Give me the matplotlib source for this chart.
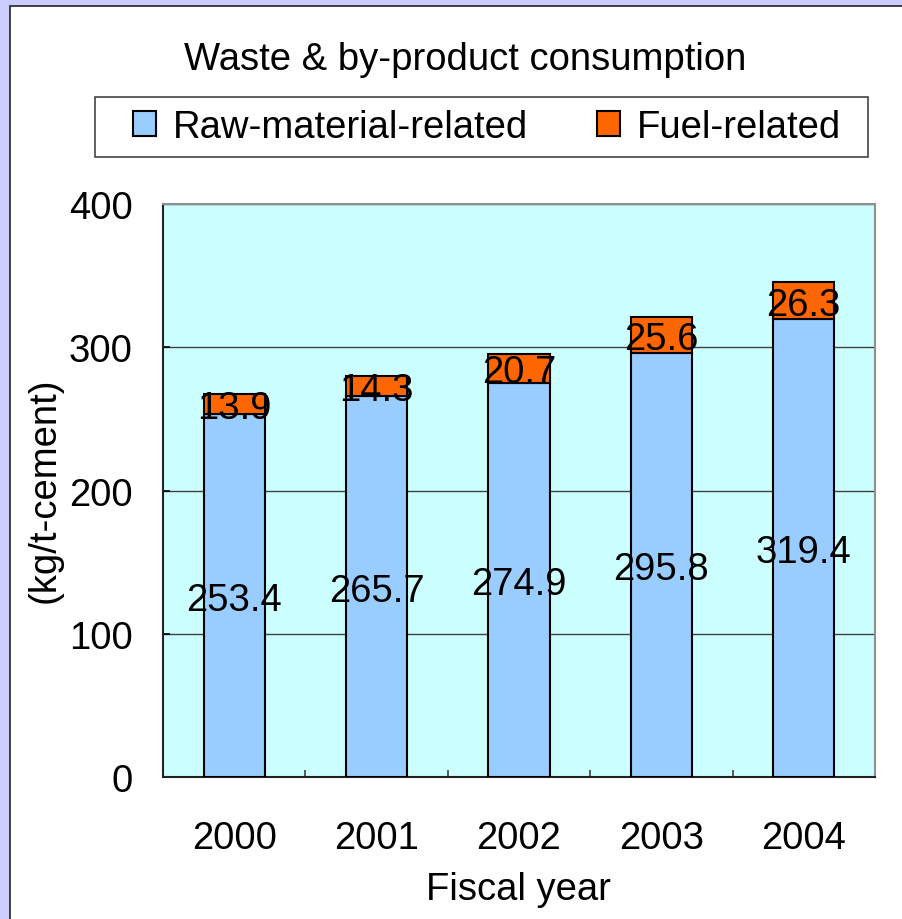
import matplotlib
matplotlib.use("Agg")
import matplotlib.pyplot as plt
from matplotlib.patches import Rectangle

plt.rcParams['font.family'] = ['Liberation Sans', 'DejaVu Sans']

years = ["2000", "2001", "2002", "2003", "2004"]
raw_material = [253.4, 265.7, 274.9, 295.8, 319.4]
fuel = [13.9, 14.3, 20.7, 25.6, 26.3]
y_ticks = [0, 100, 200, 300, 400]

W, H = 903, 920
fig = plt.figure(figsize=(W / 100, H / 100), dpi=100, facecolor="#CCCCFF")


def px_box(x0, y0, x1, y1):
    """Figure-fraction rectangle from pixel coordinates measured from the top-left."""
    return (x0 / W, 1 - y1 / H), (x1 - x0) / W, (y1 - y0) / H


# white inner panel with thin dark frame
fig.patches.append(Rectangle((10 / W, -0.01), 1, 1.01 - 7 / H, transform=fig.transFigure,
                             facecolor="white", edgecolor="#222222", linewidth=1.2,
                             zorder=-10))

ax_l, ax_t, ax_r, ax_b = 163, 205, 875, 778
ax = fig.add_axes([ax_l / W, 1 - ax_b / H, (ax_r - ax_l) / W, (ax_b - ax_t) / H])
ax.set_facecolor("#CCFFFF")

fs = 27.5
x = list(range(len(years)))
bw = 0.43
b1 = ax.bar(x, raw_material, width=bw, color="#99CCFF", edgecolor="black",
            linewidth=1.5, zorder=3, label="Raw-material-related")
b2 = ax.bar(x, fuel, width=bw, bottom=raw_material, color="#FF6600",
            edgecolor="black", linewidth=1.5, zorder=3, label="Fuel-related")

for xi, r, f in zip(x, raw_material, fuel):
    ax.text(xi, r / 2, f"{r:.1f}", ha="center", va="center_baseline",
            fontsize=fs, zorder=5)
    ax.text(xi, r + f / 2, f"{f:.1f}", ha="center", va="center_baseline",
            fontsize=fs, zorder=5)

ax.set_xlim(-0.5, len(years) - 0.5)
ax.set_ylim(0, 400)
ax.set_yticks(y_ticks)
ax.yaxis.grid(True, color="#404040", linewidth=1.0, zorder=1)
ax.set_axisbelow(True)

ax.set_xticks(x)
ax.set_xticklabels(years)
ax.set_xticks([i + 0.5 for i in x[:-1]], minor=True)
ax.tick_params(axis="x", which="major", length=0, labelsize=fs, pad=31)
ax.tick_params(axis="x", which="minor", direction="in", length=5, width=1.2,
               color="#404040")
ax.tick_params(axis="y", direction="in", length=5, width=1.2, labelsize=fs, pad=22)

for s in ("left", "bottom"):
    ax.spines[s].set_color("#222222")
    ax.spines[s].set_linewidth(1.5)
for s in ("top", "right"):
    ax.spines[s].set_color("#909090")
    ax.spines[s].set_linewidth(1.5)

fig.text(465 / W, 1 - 60 / H, "Waste & by-product consumption", ha="center",
         va="center", fontsize=fs)
fig.text(45 / W, 1 - 490 / H, "(kg/t-cement)", rotation=90, ha="center",
         va="center", fontsize=fs)
fig.text(518 / W, 1 - 890 / H, "Fiscal year", ha="center", va="center", fontsize=fs)

# legend frame drawn separately so its padding can be set in pixels
(lx, ly), lw, lh = px_box(95, 98, 868, 158)
fig.patches.append(Rectangle((lx, ly), lw, lh, transform=fig.transFigure,
                             facecolor="white", edgecolor="#444444", linewidth=1.2,
                             zorder=1))
leg = fig.legend(handles=[b1, b2], loc="center",
                 bbox_to_anchor=(487 / W, 1 - 128 / H), ncol=2, fontsize=fs,
                 frameon=False,
                 handlelength=0.6, handleheight=0.6, handletextpad=0.45,
                 columnspacing=1.8, borderpad=0.0, borderaxespad=0.0)
leg.set_zorder(5)

fig.savefig("out.png", dpi=100, facecolor=fig.get_facecolor())
